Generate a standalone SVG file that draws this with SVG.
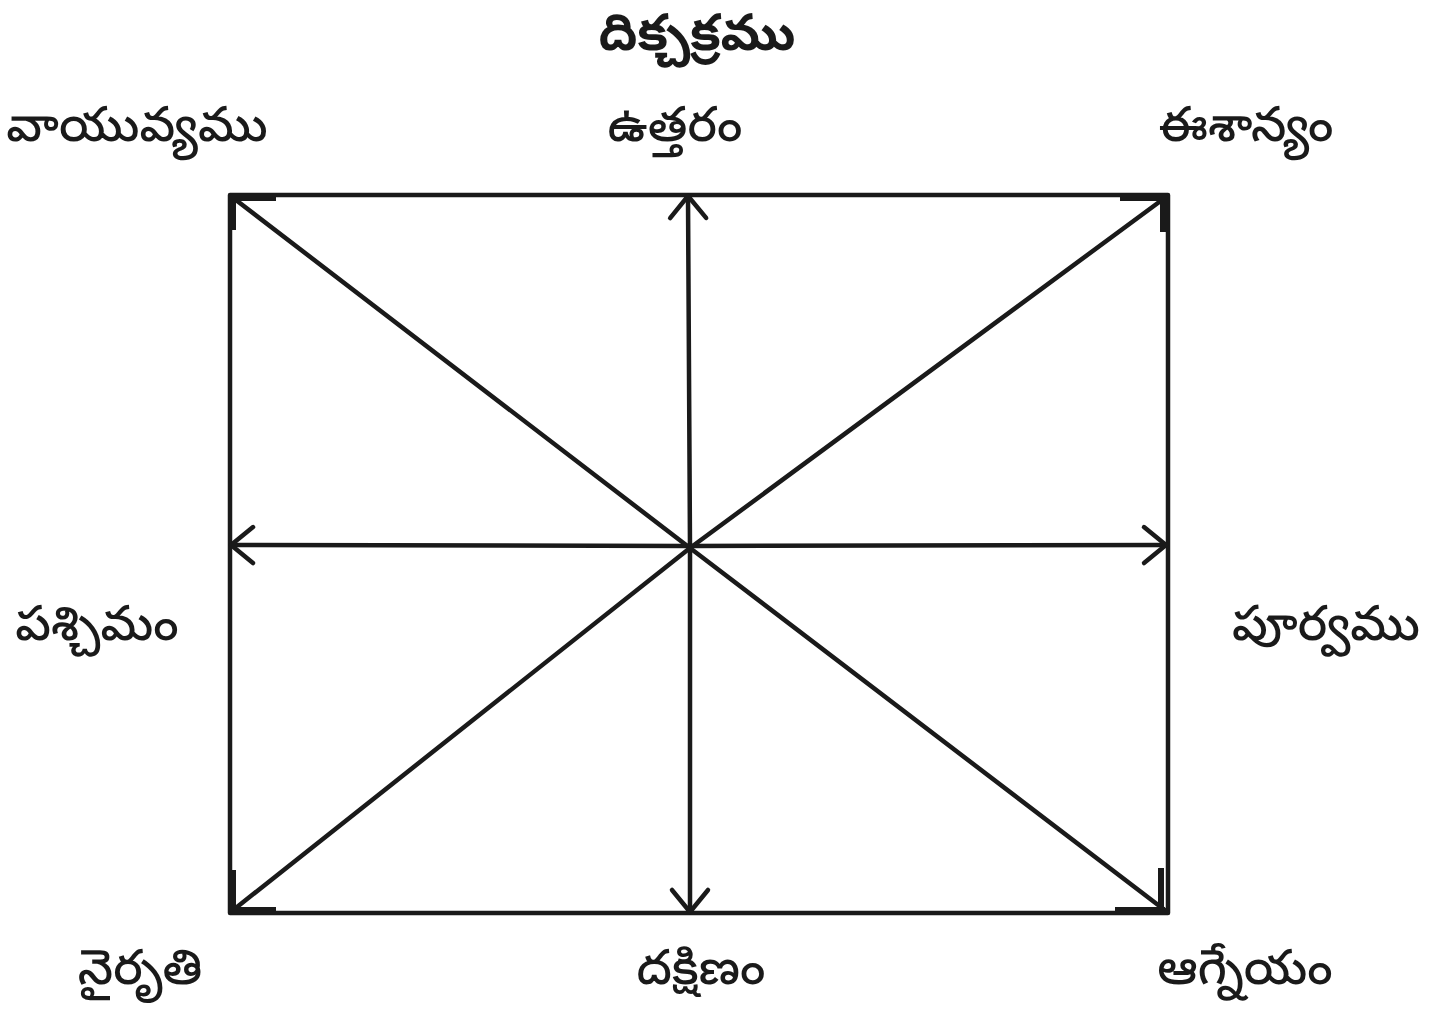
<svg xmlns="http://www.w3.org/2000/svg" width="1429" height="1013" viewBox="0 0 1429 1013">
<style>
.t{font-family:"Noto Sans Telugu","Noto Sans","Lato",sans-serif;font-size:49px;font-weight:500;fill:#1a1a1a}
.title{font-size:51px;font-weight:bold}
.ln{stroke:#1a1a1a;stroke-width:4.5;fill:none;stroke-linecap:round;stroke-linejoin:round}
.hd{stroke:#1a1a1a;stroke-width:6;fill:none;stroke-linecap:butt}
</style>
<defs>
<marker id="ah" markerUnits="userSpaceOnUse" markerWidth="40" markerHeight="50" refX="30" refY="25" orient="auto">
<path d="M8,7 L30,25 L8,43" fill="none" stroke="#1a1a1a" stroke-width="4.5" stroke-linecap="round" stroke-linejoin="round"/>
</marker>
</defs>
<rect width="1429" height="1013" fill="#ffffff"/>
<g id="frame"><rect x="230" y="195" width="938" height="718" class="ln"/></g>
<g id="connectors">
<line x1="690" y1="548" x2="688" y2="196" class="ln" marker-end="url(#ah)"/>
<line x1="690" y1="548" x2="690" y2="912" class="ln" marker-end="url(#ah)"/>
<line x1="690" y1="546" x2="231" y2="545" class="ln" marker-end="url(#ah)"/>
<line x1="690" y1="546" x2="1166" y2="545" class="ln" marker-end="url(#ah)"/>
<line x1="690" y1="548" x2="232" y2="197" class="ln"/>
<line x1="690" y1="548" x2="1166" y2="197" class="ln"/>
<line x1="690" y1="548" x2="232" y2="911" class="ln"/>
<line x1="690" y1="548" x2="1166" y2="911" class="ln"/>
<path d="M232,198 L276,198 M233,196 L233,230" class="hd"/>
<path d="M1166,198 L1120,198 M1163,196 L1163,232" class="hd"/>
<path d="M233,910 L276,910 M233,912 L233,870" class="hd"/>
<path d="M1165,910 L1115,910 M1161,912 L1161,868" class="hd"/>
</g>
<g id="title"><text class="t title" x="697" y="50" text-anchor="middle">దిక్చక్రము</text></g>
<g id="nw"><text class="t" x="137" y="141" text-anchor="middle">వాయువ్యము</text></g>
<g id="n"><text class="t" x="675" y="141" text-anchor="middle">ఉత్తరం</text></g>
<g id="ne"><text class="t" x="1246" y="141" text-anchor="middle">ఈశాన్యం</text></g>
<g id="w"><text class="t" x="97" y="640" text-anchor="middle">పశ్చిమం</text></g>
<g id="e"><text class="t" x="1326" y="640" text-anchor="middle">పూర్వము</text></g>
<g id="sw"><text class="t" x="140" y="984" text-anchor="middle">నైరృతి</text></g>
<g id="s"><text class="t" x="701" y="984" text-anchor="middle">దక్షిణం</text></g>
<g id="se"><text class="t" x="1245" y="984" text-anchor="middle">ఆగ్నేయం</text></g>
</svg>
